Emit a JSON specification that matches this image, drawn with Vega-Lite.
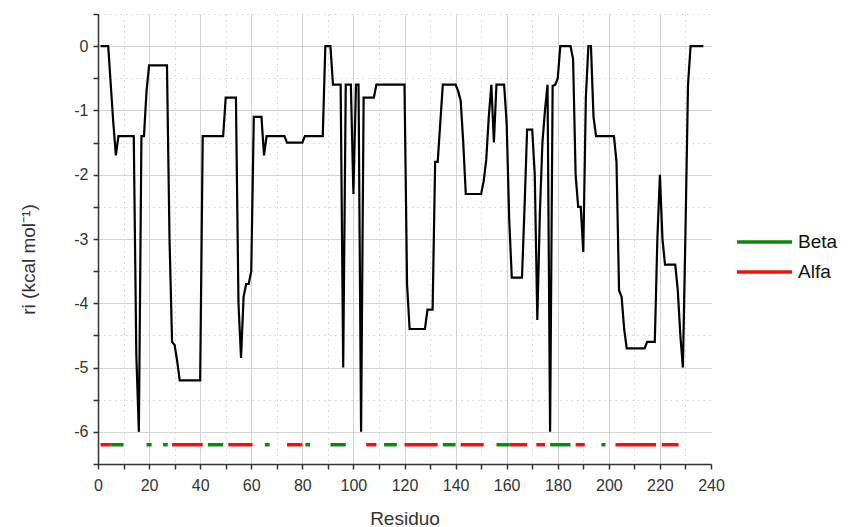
{
  "$schema": "https://vega.github.io/schema/vega-lite/v6.json",
  "width": 613,
  "height": 450,
  "autosize": {"type": "none"},
  "padding": {"left": 98, "top": 14, "right": 148, "bottom": 63},
  "background": "white",
  "config": {
    "font": "Liberation Sans",
    "view": {"stroke": null},
    "axis": {
      "domainColor": "#333333",
      "domainWidth": 1.5,
      "tickColor": "#333333",
      "tickWidth": 1.5,
      "tickSize": 5,
      "labelFont": "Liberation Sans",
      "labelFontSize": 16,
      "labelColor": "#333333",
      "titleFont": "Liberation Sans",
      "titleFontSize": 19,
      "titleFontWeight": "normal",
      "titleColor": "#333333"
    }
  },
  "datasets": {
    "perfil": [
      {"residuo":1,"ri":0},{"residuo":2,"ri":0},{"residuo":3,"ri":0},{"residuo":4,"ri":0},{"residuo":5,"ri":-0.6},
      {"residuo":6,"ri":-1.2},{"residuo":7,"ri":-1.7},{"residuo":8,"ri":-1.4},{"residuo":9,"ri":-1.4},{"residuo":10,"ri":-1.4},
      {"residuo":11,"ri":-1.4},{"residuo":12,"ri":-1.4},{"residuo":13,"ri":-1.4},{"residuo":14,"ri":-1.4},{"residuo":15,"ri":-4.8},
      {"residuo":16,"ri":-6.0},{"residuo":17,"ri":-1.4},{"residuo":18,"ri":-1.4},{"residuo":19,"ri":-0.7},{"residuo":20,"ri":-0.3},
      {"residuo":21,"ri":-0.3},{"residuo":22,"ri":-0.3},{"residuo":23,"ri":-0.3},{"residuo":24,"ri":-0.3},{"residuo":25,"ri":-0.3},
      {"residuo":26,"ri":-0.3},{"residuo":27,"ri":-0.3},{"residuo":28,"ri":-3.0},{"residuo":29,"ri":-4.6},{"residuo":30,"ri":-4.65},
      {"residuo":31,"ri":-4.9},{"residuo":32,"ri":-5.2},{"residuo":33,"ri":-5.2},{"residuo":34,"ri":-5.2},{"residuo":35,"ri":-5.2},
      {"residuo":36,"ri":-5.2},{"residuo":37,"ri":-5.2},{"residuo":38,"ri":-5.2},{"residuo":39,"ri":-5.2},{"residuo":40,"ri":-5.2},
      {"residuo":41,"ri":-1.4},{"residuo":42,"ri":-1.4},{"residuo":43,"ri":-1.4},{"residuo":44,"ri":-1.4},{"residuo":45,"ri":-1.4},
      {"residuo":46,"ri":-1.4},{"residuo":47,"ri":-1.4},{"residuo":48,"ri":-1.4},{"residuo":49,"ri":-1.4},{"residuo":50,"ri":-0.8},
      {"residuo":51,"ri":-0.8},{"residuo":52,"ri":-0.8},{"residuo":53,"ri":-0.8},{"residuo":54,"ri":-0.8},{"residuo":55,"ri":-4.0},
      {"residuo":56,"ri":-4.85},{"residuo":57,"ri":-3.9},{"residuo":58,"ri":-3.7},{"residuo":59,"ri":-3.7},{"residuo":60,"ri":-3.5},
      {"residuo":61,"ri":-1.1},{"residuo":62,"ri":-1.1},{"residuo":63,"ri":-1.1},{"residuo":64,"ri":-1.1},{"residuo":65,"ri":-1.7},
      {"residuo":66,"ri":-1.4},{"residuo":67,"ri":-1.4},{"residuo":68,"ri":-1.4},{"residuo":69,"ri":-1.4},{"residuo":70,"ri":-1.4},
      {"residuo":71,"ri":-1.4},{"residuo":72,"ri":-1.4},{"residuo":73,"ri":-1.4},{"residuo":74,"ri":-1.5},{"residuo":75,"ri":-1.5},
      {"residuo":76,"ri":-1.5},{"residuo":77,"ri":-1.5},{"residuo":78,"ri":-1.5},{"residuo":79,"ri":-1.5},{"residuo":80,"ri":-1.5},
      {"residuo":81,"ri":-1.4},{"residuo":82,"ri":-1.4},{"residuo":83,"ri":-1.4},{"residuo":84,"ri":-1.4},{"residuo":85,"ri":-1.4},
      {"residuo":86,"ri":-1.4},{"residuo":87,"ri":-1.4},{"residuo":88,"ri":-1.4},{"residuo":89,"ri":0},{"residuo":90,"ri":0},
      {"residuo":91,"ri":0},{"residuo":92,"ri":-0.6},{"residuo":93,"ri":-0.6},{"residuo":94,"ri":-0.6},{"residuo":95,"ri":-0.6},
      {"residuo":96,"ri":-5.0},{"residuo":97,"ri":-0.6},{"residuo":98,"ri":-0.6},{"residuo":99,"ri":-0.6},{"residuo":100,"ri":-2.3},
      {"residuo":101,"ri":-0.6},{"residuo":102,"ri":-0.6},{"residuo":103,"ri":-6.0},{"residuo":104,"ri":-0.8},{"residuo":105,"ri":-0.8},
      {"residuo":106,"ri":-0.8},{"residuo":107,"ri":-0.8},{"residuo":108,"ri":-0.8},{"residuo":109,"ri":-0.6},{"residuo":110,"ri":-0.6},
      {"residuo":111,"ri":-0.6},{"residuo":112,"ri":-0.6},{"residuo":113,"ri":-0.6},{"residuo":114,"ri":-0.6},{"residuo":115,"ri":-0.6},
      {"residuo":116,"ri":-0.6},{"residuo":117,"ri":-0.6},{"residuo":118,"ri":-0.6},{"residuo":119,"ri":-0.6},{"residuo":120,"ri":-0.6},
      {"residuo":121,"ri":-3.7},{"residuo":122,"ri":-4.4},{"residuo":123,"ri":-4.4},{"residuo":124,"ri":-4.4},{"residuo":125,"ri":-4.4},
      {"residuo":126,"ri":-4.4},{"residuo":127,"ri":-4.4},{"residuo":128,"ri":-4.4},{"residuo":129,"ri":-4.1},{"residuo":130,"ri":-4.1},
      {"residuo":131,"ri":-4.1},{"residuo":132,"ri":-1.8},{"residuo":133,"ri":-1.8},{"residuo":134,"ri":-1.2},{"residuo":135,"ri":-0.6},
      {"residuo":136,"ri":-0.6},{"residuo":137,"ri":-0.6},{"residuo":138,"ri":-0.6},{"residuo":139,"ri":-0.6},{"residuo":140,"ri":-0.6},
      {"residuo":141,"ri":-0.7},{"residuo":142,"ri":-0.85},{"residuo":143,"ri":-1.5},{"residuo":144,"ri":-2.3},{"residuo":145,"ri":-2.3},
      {"residuo":146,"ri":-2.3},{"residuo":147,"ri":-2.3},{"residuo":148,"ri":-2.3},{"residuo":149,"ri":-2.3},{"residuo":150,"ri":-2.3},
      {"residuo":151,"ri":-2.1},{"residuo":152,"ri":-1.77},{"residuo":153,"ri":-1.1},{"residuo":154,"ri":-0.6},{"residuo":155,"ri":-1.5},
      {"residuo":156,"ri":-0.6},{"residuo":157,"ri":-0.6},{"residuo":158,"ri":-0.6},{"residuo":159,"ri":-0.6},{"residuo":160,"ri":-1.2},
      {"residuo":161,"ri":-2.7},{"residuo":162,"ri":-3.6},{"residuo":163,"ri":-3.6},{"residuo":164,"ri":-3.6},{"residuo":165,"ri":-3.6},
      {"residuo":166,"ri":-3.6},{"residuo":167,"ri":-2.5},{"residuo":168,"ri":-1.3},{"residuo":169,"ri":-1.3},{"residuo":170,"ri":-1.3},
      {"residuo":171,"ri":-2.0},{"residuo":172,"ri":-4.26},{"residuo":173,"ri":-2.6},{"residuo":174,"ri":-1.5},{"residuo":175,"ri":-1.0},
      {"residuo":176,"ri":-0.6},{"residuo":177,"ri":-6.0},{"residuo":178,"ri":-0.62},{"residuo":179,"ri":-0.6},{"residuo":180,"ri":-0.5},
      {"residuo":181,"ri":0},{"residuo":182,"ri":0},{"residuo":183,"ri":0},{"residuo":184,"ri":0},{"residuo":185,"ri":0},
      {"residuo":186,"ri":-0.2},{"residuo":187,"ri":-2.0},{"residuo":188,"ri":-2.5},{"residuo":189,"ri":-2.5},{"residuo":190,"ri":-3.2},
      {"residuo":191,"ri":-0.8},{"residuo":192,"ri":0},{"residuo":193,"ri":0},{"residuo":194,"ri":-1.1},{"residuo":195,"ri":-1.4},
      {"residuo":196,"ri":-1.4},{"residuo":197,"ri":-1.4},{"residuo":198,"ri":-1.4},{"residuo":199,"ri":-1.4},{"residuo":200,"ri":-1.4},
      {"residuo":201,"ri":-1.4},{"residuo":202,"ri":-1.4},{"residuo":203,"ri":-1.8},{"residuo":204,"ri":-3.8},{"residuo":205,"ri":-3.9},
      {"residuo":206,"ri":-4.4},{"residuo":207,"ri":-4.7},{"residuo":208,"ri":-4.7},{"residuo":209,"ri":-4.7},{"residuo":210,"ri":-4.7},
      {"residuo":211,"ri":-4.7},{"residuo":212,"ri":-4.7},{"residuo":213,"ri":-4.7},{"residuo":214,"ri":-4.7},{"residuo":215,"ri":-4.6},
      {"residuo":216,"ri":-4.6},{"residuo":217,"ri":-4.6},{"residuo":218,"ri":-4.6},{"residuo":219,"ri":-3.0},{"residuo":220,"ri":-2.0},
      {"residuo":221,"ri":-3.0},{"residuo":222,"ri":-3.4},{"residuo":223,"ri":-3.4},{"residuo":224,"ri":-3.4},{"residuo":225,"ri":-3.4},
      {"residuo":226,"ri":-3.4},{"residuo":227,"ri":-3.8},{"residuo":228,"ri":-4.5},{"residuo":229,"ri":-5.0},{"residuo":230,"ri":-2.9},
      {"residuo":231,"ri":-0.6},{"residuo":232,"ri":0},{"residuo":233,"ri":0},{"residuo":234,"ri":0},{"residuo":235,"ri":0},
      {"residuo":236,"ri":0},{"residuo":237,"ri":0}
    ],
    "estructura": [
      {"inicio":1,"fin":5,"tipo":"Alfa"},
      {"inicio":5,"fin":10,"tipo":"Beta"},
      {"inicio":19,"fin":21,"tipo":"Beta"},
      {"inicio":25.5,"fin":27.3,"tipo":"Beta"},
      {"inicio":29,"fin":41,"tipo":"Alfa"},
      {"inicio":43,"fin":49,"tipo":"Beta"},
      {"inicio":51,"fin":60.5,"tipo":"Alfa"},
      {"inicio":65.3,"fin":67.2,"tipo":"Beta"},
      {"inicio":74,"fin":80,"tipo":"Alfa"},
      {"inicio":81.2,"fin":83,"tipo":"Beta"},
      {"inicio":91,"fin":97,"tipo":"Beta"},
      {"inicio":105,"fin":109,"tipo":"Alfa"},
      {"inicio":112,"fin":117,"tipo":"Beta"},
      {"inicio":120,"fin":133,"tipo":"Alfa"},
      {"inicio":135,"fin":140,"tipo":"Beta"},
      {"inicio":142,"fin":151,"tipo":"Alfa"},
      {"inicio":156,"fin":161,"tipo":"Beta"},
      {"inicio":161,"fin":168,"tipo":"Alfa"},
      {"inicio":171.6,"fin":175,"tipo":"Alfa"},
      {"inicio":177,"fin":185,"tipo":"Beta"},
      {"inicio":187,"fin":190.6,"tipo":"Alfa"},
      {"inicio":197.1,"fin":198.7,"tipo":"Beta"},
      {"inicio":202.6,"fin":218.5,"tipo":"Alfa"},
      {"inicio":220.8,"fin":227.3,"tipo":"Alfa"}
    ]
  },
  "layer": [
    {
      "data": {"name": "perfil"},
      "mark": {"type": "line", "color": "#000000", "strokeWidth": 2.2, "strokeJoin": "miter", "clip": true},
      "encoding": {
        "x": {
          "field": "residuo",
          "type": "quantitative",
          "scale": {"domain": [0, 240], "nice": false, "zero": false},
          "axis": {
            "title": "Residuo",
            "values": [0,10,20,30,40,50,60,70,80,90,100,110,120,130,140,150,160,170,180,190,200,210,220,230,240],
            "tickCount": 100,
            "labelExpr": "datum.value % 20 === 0 ? '' + datum.value : ''",
            "labelPadding": 8,
            "labelFlush": false,
            "labelOverlap": false,
            "grid": true,
            "gridColor": "#d4d4d4",
            "gridWidth": 1,
            "gridDash": {"condition": {"test": "datum.value % 20 !== 0", "value": [1.5, 4]}, "value": []},
            "gridOpacity": {"condition": {"test": "datum.value === 240 || datum.value === 0", "value": 0}, "value": 1},
            "titleY": 60,
            "titleBaseline": "alphabetic"
          }
        },
        "y": {
          "field": "ri",
          "type": "quantitative",
          "scale": {"domain": [-6.5, 0.5], "nice": false, "zero": false},
          "axis": {
            "title": "ri (kcal mol⁻¹)",
            "values": [-6.5,-6,-5.5,-5,-4.5,-4,-3.5,-3,-2.5,-2,-1.5,-1,-0.5,0,0.5],
            "tickCount": 100,
            "labelExpr": "datum.value % 1 === 0 ? '' + datum.value : ''",
            "labelPadding": 5,
            "labelFlush": false,
            "labelOverlap": false,
            "grid": true,
            "gridColor": "#d4d4d4",
            "gridWidth": 1,
            "gridDash": {"condition": {"test": "datum.value % 1 !== 0", "value": [1.5, 4]}, "value": []},
            "gridOpacity": {"condition": {"test": "datum.value === -6.5", "value": 0}, "value": 1},
            "titleX": -70,
            "titleY": 245,
            "titleBaseline": "middle",
            "titleAngle": -90
          }
        }
      }
    },
    {
      "data": {"name": "estructura"},
      "mark": {"type": "rule", "strokeWidth": 3.5, "strokeCap": "butt"},
      "encoding": {
        "x": {"field": "inicio", "type": "quantitative"},
        "x2": {"field": "fin"},
        "y": {"datum": -6.2},
        "color": {
          "field": "tipo",
          "type": "nominal",
          "scale": {"domain": ["Beta", "Alfa"], "range": ["#0a8a0a", "#f01010"]},
          "legend": {
            "title": null,
            "orient": "none",
            "legendX": 637,
            "legendY": 218,
            "padding": 0,
            "symbolType": "stroke",
            "symbolSize": 3025,
            "symbolStrokeWidth": 3.5,
            "clipHeight": 20,
            "rowPadding": 10,
            "labelFont": "Liberation Sans",
            "labelFontSize": 19,
            "labelColor": "#111111",
            "labelOffset": 4
          }
        }
      }
    }
  ]
}
